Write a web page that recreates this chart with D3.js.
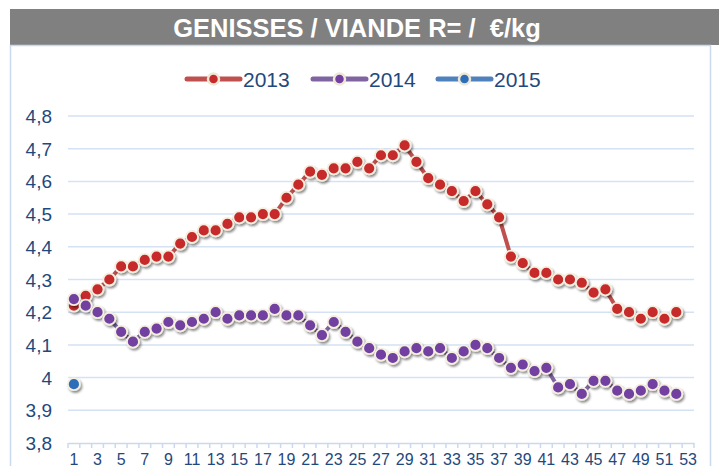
<!DOCTYPE html>
<html><head><meta charset="utf-8">
<script src="https://cdn.jsdelivr.net/npm/d3@7"></script>
<style>body{margin:0;background:#fff}svg{display:block}</style>
</head><body>
<svg id="c" width="719" height="466"></svg>
<script>
const title = "GENISSES / VIANDE R= /  €/kg";
const weeks = d3.range(1, 54);
const yTicks = [3.8, 3.9, 4.0, 4.1, 4.2, 4.3, 4.4, 4.5, 4.6, 4.7, 4.8];
const seriesNames = ["2013", "2014", "2015"];
const v2013 = [4.22,4.25,4.27,4.30,4.34,4.34,4.36,4.37,4.37,4.41,4.43,4.45,4.45,4.47,4.49,4.49,4.50,4.50,4.55,4.59,
  4.63,4.62,4.64,4.64,4.66,4.64,4.68,4.68,4.71,4.66,4.61,4.59,4.57,4.54,4.57,4.53,4.49,4.37,4.35,4.32,
  4.32,4.30,4.30,4.29,4.26,4.27,4.21,4.20,4.18,4.20,4.18,4.20];
const v2014 = [4.24,4.22,4.20,4.18,4.14,4.11,4.14,4.15,4.17,4.16,4.17,4.18,4.20,4.18,4.19,4.19,4.19,4.21,4.19,4.19,
  4.16,4.13,4.17,4.14,4.11,4.09,4.07,4.06,4.08,4.09,4.08,4.09,4.06,4.08,4.10,4.09,4.06,4.03,4.04,4.02,
  4.03,3.97,3.98,3.95,3.99,3.99,3.96,3.95,3.96,3.98,3.96,3.95];
const v2015 = [3.98];
const lineColors = ["#C0504D", "#8064A2", "#4F81BD"];
const dotColors = ["#C62A2B", "#7140A0", "#2E6DB8"];

const svg = d3.select("#c");
const defs = svg.append("defs");
const f = defs.append("filter").attr("id","sh").attr("x","-50%").attr("y","-50%").attr("width","200%").attr("height","200%");
f.append("feDropShadow").attr("dx",1.5).attr("dy",2).attr("stdDeviation",1.3).attr("flood-color","#000").attr("flood-opacity",0.45);

// header
svg.append("rect").attr("x",10).attr("y",9).attr("width",709).attr("height",36).attr("fill","#808080");
svg.append("text").attr("x",357).attr("y",37).attr("text-anchor","middle")
  .style("white-space","pre").attr("xml:space","preserve")
  .attr("font-family","Liberation Sans, Arial, sans-serif").attr("font-weight","bold")
  .attr("font-size",25.5).attr("fill","#fff").text(title);
// chart box
svg.append("rect").attr("x",10.5).attr("y",45.5).attr("width",700).attr("height",440)
  .attr("fill","none").attr("stroke","#C9DAF0").attr("stroke-width",1.5);

const x = d3.scaleBand().domain(weeks).range([68, 694]).padding(0);
const cx = d => x(d) + x.bandwidth()/2;
const y = d3.scaleLinear().domain([3.8, 4.8]).range([443, 116]);
const fmt = d => String(+d.toFixed(1)).replace(".", ",");

// gridlines
svg.append("g").selectAll("line").data(yTicks.slice(1)).join("line")
  .attr("x1",68).attr("x2",694).attr("y1",d=>y(d)).attr("y2",d=>y(d))
  .attr("stroke","#D5E2F3").attr("stroke-width",1.5);

// y labels
svg.append("g").selectAll("text").data(yTicks).join("text")
  .attr("x",52).attr("y",d=>y(d)+7).attr("text-anchor","end")
  .attr("font-family","Liberation Sans, Arial, sans-serif").attr("font-size",19)
  .attr("fill","#1F497D").text(fmt);

// x axis
const xa = svg.append("g").attr("transform","translate(0,443)")
  .call(d3.axisBottom(x).tickSize(0).tickPadding(0).tickFormat(d => d % 2 === 1 ? d : ""));
xa.select(".domain").attr("stroke","#C9DAF0").attr("stroke-width",1.5);
xa.selectAll("text").attr("font-family","Liberation Sans, Arial, sans-serif").attr("font-size",16)
  .attr("fill","#1F497D").attr("dy",0).attr("y",21.5);
const bounds = weeks.map(d => x(d)).concat([x(53) + x.bandwidth()]);
xa.append("g").selectAll("line").data(bounds).join("line")
  .attr("x1",d=>d).attr("x2",d=>d).attr("y1",0).attr("y2",5)
  .attr("stroke","#C9DAF0").attr("stroke-width",1.5);

// series
const series = [v2013, v2014, v2015];
const line = d3.line().x((d,i)=>cx(weeks[i])).y(d=>y(d));
series.forEach((vals, k) => {
  const g = svg.append("g");
  g.append("path").attr("d", line(vals)).attr("fill","none")
    .attr("stroke", lineColors[k]).attr("stroke-width",4);
  g.append("g").attr("filter","url(#sh)").selectAll("circle").data(vals).join("circle")
    .attr("cx",(d,i)=>cx(weeks[i])).attr("cy",d=>y(d)).attr("r",6)
    .attr("fill",dotColors[k]).attr("stroke","#F4EFDF").attr("stroke-width",1.8);
});

// legend
const lx = [187, 313, 438];
seriesNames.forEach((n, k) => {
  const g = svg.append("g").attr("transform",`translate(${lx[k]},79)`);
  g.append("line").attr("x1",0).attr("x2",53).attr("y1",0).attr("y2",0)
    .attr("stroke",lineColors[k]).attr("stroke-width",5).attr("stroke-linecap","round");
  g.append("circle").attr("cx",26.5).attr("cy",0).attr("r",5.5)
    .attr("fill",dotColors[k]).attr("stroke","#EDE8D6").attr("stroke-width",2.5);
  g.append("text").attr("x",56).attr("y",7.5)
    .attr("font-family","Liberation Sans, Arial, sans-serif").attr("font-size",21)
    .attr("fill","#1F497D").text(n);
});
</script>
</body></html>
